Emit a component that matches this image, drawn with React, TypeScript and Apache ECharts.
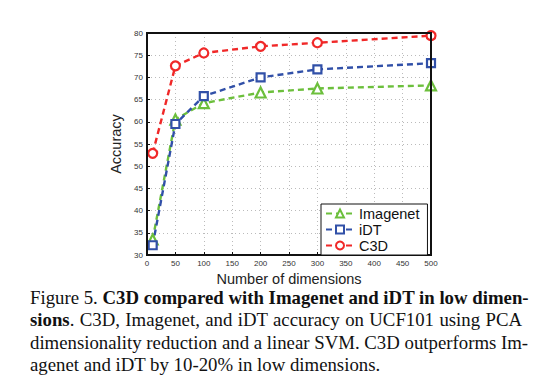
import React, { useEffect, useRef } from "react";
import * as echarts from "echarts";

const dims = [10, 50, 100, 200, 300, 500];
const imagenet = [33.5, 60.5, 64.2, 66.6, 67.5, 68.2];
const idt = [32.2, 59.5, 65.8, 70.0, 71.8, 73.2];
const c3d = [52.9, 72.6, 75.5, 77.0, 77.8, 79.4];
const seriesNames = ["Imagenet", "iDT", "C3D"];

const pair = (ys: number[]) => dims.map((x, i) => [x, ys[i]]);

export default function App() {
  const ref = useRef<HTMLDivElement>(null);
  useEffect(() => {
    const chart = echarts.init(ref.current!, null, { renderer: "svg" });
    const mk = (name: string, data: number[], color: string, symbol: string, size: number) => ({
      name,
      type: "line",
      data: pair(data),
      symbol,
      symbolSize: size,
      lineStyle: { color, width: 2.4, type: [6, 4] },
      itemStyle: { color: "#ffffff", borderColor: color, borderWidth: 2.2 },
      z: 3,
    });
    chart.setOption({
      animation: false,
      textStyle: { fontFamily: "Liberation Sans, Arial, sans-serif" },
      grid: { left: 147, right: 126, top: 33, bottom: 135, containLabel: false },
      xAxis: {
        type: "value",
        min: 0,
        max: 500,
        interval: 50,
        name: "Number of dimensions",
        nameLocation: "middle",
        nameGap: 16,
        nameTextStyle: { fontSize: 14.5, color: "#222" },
        axisLine: { show: true, onZero: false, lineStyle: { color: "#111", width: 2 } },
        axisTick: { inside: true, length: 3, lineStyle: { color: "#111" } },
        axisLabel: { fontSize: 8, color: "#333", margin: 4 },
        splitLine: { show: true, lineStyle: { color: "#bbb", type: [1, 3], width: 1 } },
      },
      yAxis: {
        type: "value",
        min: 30,
        max: 80,
        interval: 5,
        name: "Accuracy",
        nameLocation: "middle",
        nameGap: 19,
        nameTextStyle: { fontSize: 14.5, color: "#222" },
        axisLine: { show: true, onZero: false, lineStyle: { color: "#111", width: 2 } },
        axisTick: { inside: true, length: 3, lineStyle: { color: "#111" } },
        axisLabel: { fontSize: 8, color: "#333", margin: 4 },
        splitLine: { show: true, lineStyle: { color: "#bbb", type: [1, 3], width: 1 } },
      },
      graphic: [
        {
          type: "rect",
          shape: { x: 147, y: 33, width: 284, height: 222 },
          style: { fill: "none", stroke: "#111", lineWidth: 2 },
          silent: true,
          z: 10,
        },
      ],
      legend: {
        data: seriesNames,
        orient: "vertical",
        left: 321,
        top: 204,
        backgroundColor: "#fff",
        borderColor: "#111",
        borderWidth: 1,
        borderRadius: 0,
        padding: [2, 8, 2, 4],
        itemGap: 1,
        itemWidth: 28,
        itemHeight: 10,
        textStyle: { fontSize: 14.5, color: "#111", padding: [0, 0, 0, 0] },
        z: 20,
      },
      series: [
        mk("Imagenet", imagenet, "#6cbf3c", "triangle", 10),
        mk("iDT", idt, "#3150a8", "rect", 8),
        mk("C3D", c3d, "#f02828", "circle", 9),
      ],
    });
    return () => chart.dispose();
  }, []);

  const line: React.CSSProperties = {
    textAlign: "justify",
    textAlignLast: "justify",
    whiteSpace: "nowrap",
    height: 22.3,
  };
  return (
    <div style={{ position: "fixed", left: 0, top: 0, width: 557, height: 390, background: "#fff" }}>
      <div ref={ref} style={{ width: 557, height: 390 }} />
      <div
        style={{
          position: "absolute",
          left: 30,
          top: 287,
          width: 492,
          fontFamily: "'Liberation Serif', 'Times New Roman', serif",
          fontSize: 18.8,
          lineHeight: "22.3px",
          color: "#111",
        }}
      >
        <div style={line}>
          Figure 5. <b>C3D compared with Imagenet and iDT in low dimen-</b>
        </div>
        <div style={line}>
          <b>sions</b>. C3D, Imagenet, and iDT accuracy on UCF101 using PCA
        </div>
        <div style={line}>dimensionality reduction and a linear SVM. C3D outperforms Im-</div>
        <div style={{ height: 22.3, whiteSpace: "nowrap" }}>agenet and iDT by 10-20% in low dimensions.</div>
      </div>
    </div>
  );
}
